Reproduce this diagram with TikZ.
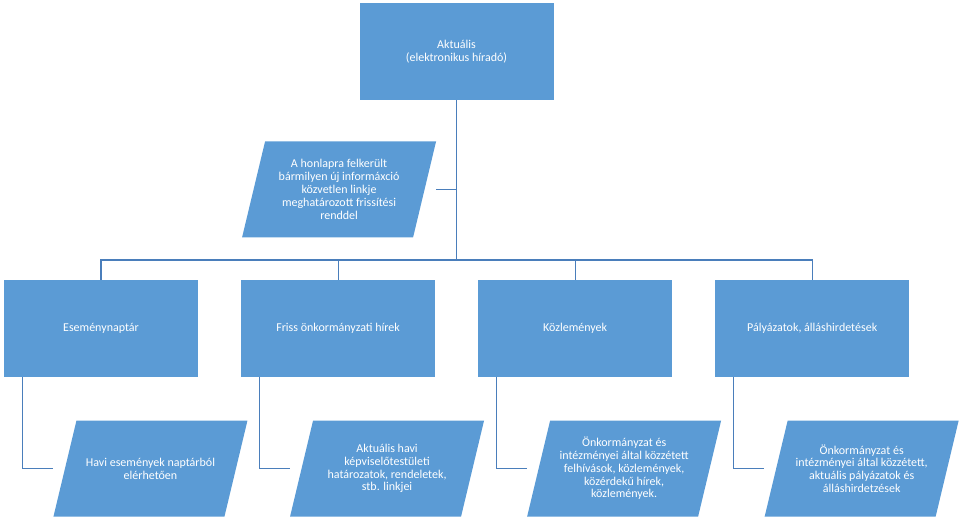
\documentclass[tikz,border=0pt]{standalone}
\usepackage{fontspec}
\setmainfont{Carlito}
\usetikzlibrary{positioning}
\definecolor{boxblue}{HTML}{5B9BD5}
\definecolor{lineblue}{HTML}{4A7EBB}
\tikzstyle{block}=[fill=boxblue, text=white, align=center, minimum width=145.5pt, minimum height=72.75pt, inner sep=0pt]
\tikzstyle{para}=[text=white, align=center, minimum width=145.5pt, minimum height=72pt, inner sep=0pt,
  path picture={\fill[boxblue] ([xshift=17.25pt]path picture bounding box.north west) -- (path picture bounding box.north east)
    -- ([xshift=-17.25pt]path picture bounding box.south east) -- (path picture bounding box.south west) -- cycle;}]
\tikzstyle{link}=[draw=lineblue, line width=0.8pt]

\begin{document}
\begin{tikzpicture}[x=0.75pt,y=-0.75pt,node distance=31.9pt,font=\fontsize{9}{9.6}\selectfont]
        \useasboundingbox (0,0) rectangle (960,520);
        % main level
        \node [block] (top) at (456.5,51.5) {Aktuális\\(elektronikus híradó)};
        \node [block] (e1) at (101,328.5) {Eseménynaptár};
        \node [block] (e2) [right=of e1] {Friss önkormányzati hírek};
        \node [block] (e3) [right=of e2] {Közlemények};
        \node [block] (e4) [right=of e3] {Pályázatok, álláshirdetések};
        \node [para] (p0) [above=31.5pt of e2, xshift=0.75pt] {A honlapra felkerült\\bármilyen új informáxció\\közvetlen linkje\\meghatározott frissítési\\renddel};
        % details
        \node [para] (h1) [below=32.25pt of e1, xshift=37.1pt] {Havi események naptárból\\elérhetően};
        \node [para] (h2) [below=32.25pt of e2, xshift=36.75pt] {Aktuális havi\\képviselőtestületi\\határozatok, rendeletek,\\stb. linkjei};
        \node [para] (h3) [below=32.25pt of e3, xshift=36.75pt] {Önkormányzat és\\intézményei által közzétett\\felhívások, közlemények,\\közérdekű hírek,\\közlemények.};
        \node [para] (h4) [below=32.25pt of e4, xshift=37.1pt] {Önkormányzat és\\intézményei által közzétett,\\aktuális pályázatok és\\álláshirdetzések};
        \coordinate (bus) at (456.5,260);
        \draw[link] (top.south) -- (bus);
        \draw[link] (p0.east) -- (p0.east -| top.south);
        \foreach \n in {e1,e2,e3,e4}
            \draw[link] (bus) -| (\n.north);
        \draw[link] ([xshift=14.25pt]e1.south west) |- (h1.west);
        \draw[link] ([xshift=14.25pt]e2.south west) |- (h2.west);
        \draw[link] ([xshift=14.25pt]e3.south west) |- (h3.west);
        \draw[link] ([xshift=14.25pt]e4.south west) |- (h4.west);
    \end{tikzpicture}
\end{document}
